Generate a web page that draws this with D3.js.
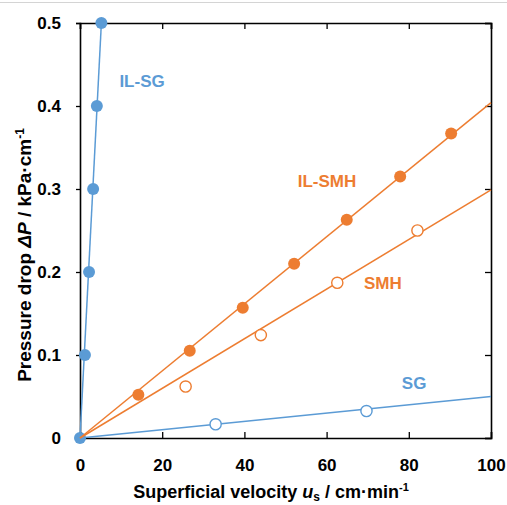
<!DOCTYPE html>
<html>
<head>
<meta charset="utf-8">
<script src="https://cdn.jsdelivr.net/npm/d3@7"></script>
<style>
  body { margin: 0; background: #fff; }
  text { font-family: "Liberation Sans", Arial, sans-serif; font-weight: bold; }
</style>
</head>
<body>
<div id="chart"></div>
<script>
// Data
const ilsgX = [0, 1.2, 2.2, 3.2, 4.1, 5.2];
const ilsgY = [0, 0.1, 0.2, 0.3, 0.4, 0.5];
const ilsmhX = [14.2, 26.7, 39.6, 52.1, 64.9, 77.9, 90.3];
const ilsmhY = [0.052, 0.105, 0.157, 0.210, 0.263, 0.315, 0.367];
const smhX = [25.7, 44, 62.6, 82.1];
const smhY = [0.062, 0.124, 0.187, 0.250];
const sgX = [33, 69.7];
const sgY = [0.0165, 0.0325];

// Fitted lines through the origin: [x end, y end]
const ilsgFit = [5.2, 0.5];
const ilsmhFit = [100, 0.404];
const smhFit = [100, 0.299];
const sgFit = [100, 0.050];

const xTicks = [0, 20, 40, 60, 80, 100];
const yTicks = [0, 0.1, 0.2, 0.3, 0.4, 0.5];

const blue = '#5B9BD5';
const orange = '#ED7D31';

const width = 507;
const height = 505;
const margin = { top: 23, right: 16, bottom: 67, left: 80 };
const innerW = width - margin.left - margin.right;
const innerH = height - margin.top - margin.bottom;

const svg = d3.select('#chart')
    .append('svg')
    .attr('width', width)
    .attr('height', height);

// thin grey rule at the very top of the picture
svg.append('line')
    .attr('x1', 0).attr('x2', width)
    .attr('y1', 2.5).attr('y2', 2.5)
    .attr('stroke', '#d4d4d4')
    .attr('stroke-width', 1);

const g = svg.append('g')
    .attr('transform', `translate(${margin.left},${margin.top})`);

const x = d3.scaleLinear().domain([0, 100]).range([0, innerW]);
const y = d3.scaleLinear().domain([0, 0.5]).range([innerH, 0]);

// Axes
const fmtY = d => d === 0 ? '0' : d3.format('.1f')(d);

const xAxis = g.append('g')
    .attr('transform', `translate(0,${innerH})`)
    .call(d3.axisBottom(x).tickValues(xTicks).tickSize(-6).tickPadding(21).tickFormat(d3.format('d')));
const yAxis = g.append('g')
    .call(d3.axisLeft(y).tickValues(yTicks).tickSize(4).tickPadding(15).tickFormat(fmtY));
const xTop = g.append('g')
    .call(d3.axisTop(x).tickValues(xTicks).tickSize(-6).tickFormat(''));
const yRight = g.append('g')
    .attr('transform', `translate(${innerW},0)`)
    .call(d3.axisRight(y).tickValues(yTicks).tickSize(-6).tickFormat(''));

[xAxis, yAxis, xTop, yRight].forEach(a => {
    a.select('.domain').attr('stroke', '#000').attr('stroke-width', 1.6);
    a.selectAll('.tick line').attr('stroke', '#000').attr('stroke-width', 1.3);
    a.selectAll('.tick text')
        .attr('fill', '#000')
        .style('font-size', '17px')
        .style('font-family', '"Liberation Sans", Arial, sans-serif')
        .style('font-weight', 'bold');
});

// Axis titles
const xTitle = svg.append('text')
    .attr('x', 271)
    .attr('y', 498)
    .attr('text-anchor', 'middle')
    .style('font-size', '18px')
    .attr('fill', '#000');
xTitle.append('tspan').text('Superficial velocity ');
xTitle.append('tspan').style('font-style', 'italic').text('u');
xTitle.append('tspan').attr('dy', 3).style('font-size', '12px').text('s');
xTitle.append('tspan').attr('dy', -3).text(' / cm·min');
xTitle.append('tspan').attr('dy', -7).style('font-size', '11px').text('-1');

const yTitle = svg.append('text')
    .attr('transform', 'translate(31,255) rotate(-90)')
    .attr('text-anchor', 'middle')
    .style('font-size', '19px')
    .attr('fill', '#000');
yTitle.append('tspan').text('Pressure drop ');
yTitle.append('tspan').style('font-style', 'italic').text('ΔP');
yTitle.append('tspan').text(' / kPa·cm');
yTitle.append('tspan').attr('dy', -7).style('font-size', '12px').text('-1');

// Series
const series = [
    { xs: ilsgX, ys: ilsgY, fit: ilsgFit, color: blue, filled: true },
    { xs: sgX, ys: sgY, fit: sgFit, color: blue, filled: false },
    { xs: ilsmhX, ys: ilsmhY, fit: ilsmhFit, color: orange, filled: true },
    { xs: smhX, ys: smhY, fit: smhFit, color: orange, filled: false }
];

const line = d3.line().x(d => x(d[0])).y(d => y(d[1]));

series.forEach(s => {
    g.append('path')
        .attr('d', line([[0, 0], s.fit]))
        .attr('fill', 'none')
        .attr('stroke', s.color)
        .attr('stroke-width', 1.5);

    g.selectAll(null)
        .data(s.xs.map((v, i) => [v, s.ys[i]]))
        .enter()
        .append('circle')
        .attr('cx', d => x(d[0]))
        .attr('cy', d => y(d[1]))
        .attr('r', s.filled ? 6 : 5.6)
        .attr('fill', s.filled ? s.color : '#fff')
        .attr('stroke', s.color)
        .attr('stroke-width', s.filled ? 0 : 1.4);
});

// Series labels
const labels = [
    { text: 'IL-SG', x: 15.1, y: 0.430, color: blue },
    { text: 'SG', x: 81.3, y: 0.066, color: blue },
    { text: 'IL-SMH', x: 60.1, y: 0.310, color: orange },
    { text: 'SMH', x: 73.7, y: 0.187, color: orange }
];

g.selectAll('.series-label')
    .data(labels)
    .enter()
    .append('text')
    .attr('class', 'series-label')
    .attr('x', d => x(d.x))
    .attr('y', d => y(d.y))
    .attr('text-anchor', 'middle')
    .attr('dy', '0.35em')
    .style('font-size', '17px')
    .attr('fill', d => d.color)
    .text(d => d.text);
</script>
</body>
</html>
